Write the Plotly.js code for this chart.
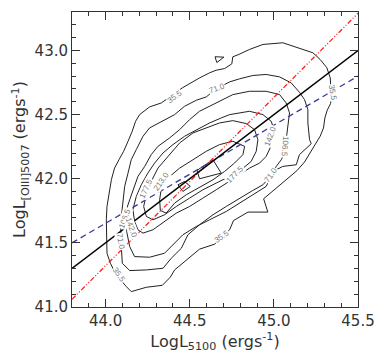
<!DOCTYPE html>
<html>
<head>
<meta charset="utf-8">
<script src="https://cdn.plot.ly/plotly-3.0.1.min.js"></script>
<style>
  html, body { margin: 0; padding: 0; background: #fff; }
  #plot { width: 374px; height: 363px; }
</style>
</head>
<body>
<div id="plot"></div>
<script>
// contour levels (counts), each traced as a closed polyline
c35_x = [44.152, 44.242, 44.337, 44.384, 44.410, 44.479, 44.558, 44.648, 44.737, 44.760, 44.846, 44.964, 44.939, 45.014, 45.083, 45.137, 45.182, 45.212, 45.246, 45.275, 45.295, 45.303, 45.317, 45.337, 45.341, 45.335, 45.315, 45.275, 45.232, 45.133, 45.053, 44.935, 44.855, 44.792, 44.756, 44.750, 44.707, 44.657, 44.618, 44.558, 44.509, 44.455, 44.400, 44.331, 44.261, 44.202, 44.178, 44.158, 44.133, 44.107, 44.079, 44.053, 44.034, 44.020, 44.008, 44.004, 44.004, 44.008, 44.028, 44.063, 44.123, 44.152]
c35_y = [41.120, 41.154, 41.169, 41.232, 41.289, 41.367, 41.451, 41.490, 41.602, 41.674, 41.740, 41.740, 41.844, 41.927, 42.000, 42.063, 42.130, 42.195, 42.273, 42.331, 42.396, 42.474, 42.534, 42.586, 42.656, 42.786, 42.865, 42.930, 42.982, 43.026, 43.060, 43.047, 43.008, 42.969, 42.951, 42.896, 42.859, 42.846, 42.826, 42.786, 42.747, 42.708, 42.656, 42.591, 42.560, 42.500, 42.448, 42.370, 42.292, 42.214, 42.148, 42.083, 41.992, 41.888, 41.784, 41.680, 41.549, 41.419, 41.341, 41.250, 41.159, 41.120]
c35b_x = [44.650, 44.703, 44.661, 44.650]
c35b_y = [42.951, 42.948, 42.906, 42.951]

c71_x = [44.796, 44.875, 44.954, 45.034, 45.103, 45.152, 45.182, 45.202, 45.202, 45.212, 45.222, 45.152, 45.133, 45.053, 45.014, 44.935, 44.875, 44.796, 44.717, 44.638, 44.558, 44.489, 44.450, 44.390, 44.341, 44.242, 44.143, 44.099, 44.093, 44.089, 44.103, 44.113, 44.133, 44.152, 44.182, 44.222, 44.261, 44.311, 44.360, 44.410, 44.469, 44.539, 44.598, 44.657, 44.737, 44.796]
c71_y = [42.779, 42.805, 42.813, 42.794, 42.747, 42.674, 42.617, 42.539, 42.435, 42.305, 42.273, 42.188, 42.109, 42.096, 42.070, 41.953, 41.909, 41.849, 41.784, 41.719, 41.641, 41.563, 41.458, 41.380, 41.302, 41.289, 41.284, 41.341, 41.471, 41.654, 41.836, 41.940, 42.044, 42.148, 42.227, 42.331, 42.396, 42.430, 42.461, 42.500, 42.565, 42.612, 42.638, 42.701, 42.755, 42.779]

c106_x = [44.855, 44.954, 45.034, 45.073, 45.093, 45.083, 45.073, 45.063, 45.044, 45.014, 44.984, 44.954, 44.875, 44.796, 44.717, 44.618, 44.539, 44.459, 44.400, 44.350, 44.261, 44.172, 44.143, 44.127, 44.119, 44.123, 44.143, 44.162, 44.192, 44.232, 44.271, 44.311, 44.380, 44.440, 44.499, 44.558, 44.657, 44.756, 44.855]
c106_y = [42.682, 42.682, 42.656, 42.591, 42.513, 42.409, 42.305, 42.201, 42.148, 42.096, 42.018, 41.940, 41.875, 41.810, 41.745, 41.680, 41.628, 41.563, 41.484, 41.419, 41.388, 41.393, 41.471, 41.576, 41.667, 41.758, 41.836, 41.914, 42.018, 42.096, 42.188, 42.253, 42.318, 42.383, 42.461, 42.526, 42.591, 42.656, 42.682]

c142_x = [44.737, 44.855, 44.935, 44.984, 45.004, 44.994, 44.978, 44.954, 44.915, 44.855, 44.796, 44.737, 44.657, 44.578, 44.499, 44.420, 44.350, 44.281, 44.222, 44.192, 44.172, 44.162, 44.182, 44.212, 44.251, 44.291, 44.341, 44.400, 44.469, 44.539, 44.618, 44.687, 44.737]
c142_y = [42.500, 42.526, 42.500, 42.448, 42.370, 42.305, 42.240, 42.174, 42.122, 42.083, 42.031, 41.979, 41.914, 41.849, 41.784, 41.732, 41.667, 41.602, 41.576, 41.602, 41.667, 41.758, 41.862, 41.953, 42.044, 42.122, 42.201, 42.266, 42.331, 42.383, 42.435, 42.474, 42.500]

c177_x = [44.519, 44.598, 44.677, 44.756, 44.836, 44.885, 44.905, 44.895, 44.865, 44.806, 44.737, 44.657, 44.578, 44.499, 44.420, 44.350, 44.281, 44.242, 44.226, 44.242, 44.271, 44.311, 44.370, 44.440, 44.519]
c177_y = [42.357, 42.396, 42.435, 42.453, 42.430, 42.383, 42.305, 42.214, 42.135, 42.070, 42.018, 41.966, 41.914, 41.849, 41.784, 41.719, 41.680, 41.706, 41.784, 41.875, 41.979, 42.083, 42.174, 42.279, 42.357]

c213_x = [44.321, 44.331, 44.370, 44.440, 44.519, 44.598, 44.677, 44.756, 44.826, 44.816, 44.766, 44.707, 44.638, 44.558, 44.479, 44.410, 44.360, 44.325, 44.321]
c213_y = [41.836, 41.927, 42.005, 42.083, 42.148, 42.214, 42.266, 42.292, 42.253, 42.188, 42.122, 42.057, 41.992, 41.935, 41.875, 41.810, 41.732, 41.753, 41.836]

c248_x = [44.543, 44.638, 44.687, 44.558, 44.543]
c248_y = [42.065, 42.148, 42.044, 42.000, 42.065]
c248b_x = [44.430, 44.469, 44.503, 44.459, 44.430]
c248b_y = [41.953, 41.979, 41.940, 41.901, 41.953]

// contour labels
lab_text = ['35.5', '35.5', '35.5', '35.5', '71.0', '71.0', '71.0', '106.5', '106.5', '142.0', '142.0', '177.5', '177.5', '213.0']
lab_x = [44.414, 45.347, 44.693, 44.077, 44.661, 44.980, 44.087, 44.113, 45.067, 44.156, 44.978, 44.242, 44.770, 44.331]
lab_y = [42.638, 42.669, 41.547, 41.253, 42.701, 42.026, 41.508, 41.693, 42.253, 41.615, 42.331, 41.922, 42.031, 41.979]
lab_angle = [-35, 80, -35, 55, -20, -55, 80, -70, 95, 70, -70, -65, -45, -55]

// fitted lines
fit_x = [43.8, 45.5]
fit_black = [41.30, 43.00]
fit_red = [41.06, 43.29]
fit_blue = [41.50, 42.80]

var contours = [
    [c35_x, c35_y], [c35b_x, c35b_y], [c71_x, c71_y], [c106_x, c106_y],
    [c142_x, c142_y], [c177_x, c177_y], [c213_x, c213_y],
    [c248_x, c248_y], [c248b_x, c248b_y]
]

var traces = contours.map(c => ({
    x: c[0], y: c[1],
    mode: 'lines', type: 'scatter',
    line: { color: '#222', width: 1 },
    hoverinfo: 'skip'
}))

traces.push({
    x: fit_x, y: fit_blue, mode: 'lines', type: 'scatter',
    line: { color: '#3a3a9a', width: 1.3, dash: '6px,4px' }
})
traces.push({
    x: fit_x, y: fit_red, mode: 'lines', type: 'scatter',
    line: { color: '#ff2020', width: 1.3, dash: '5px,2px,1px,2px,1px,2px' }
})
traces.push({
    x: fit_x, y: fit_black, mode: 'lines', type: 'scatter',
    line: { color: '#000', width: 1.5 }
})

var annotations = lab_text.map((t, i) => ({
    x: lab_x[i], y: lab_y[i], text: t,
    showarrow: false, textangle: lab_angle[i],
    font: { family: 'Liberation Sans, Arial, sans-serif', size: 8, color: '#777' },
    bgcolor: '#fff', borderpad: 0
}))

var tickFont = { family: 'DejaVu Sans, sans-serif', size: 15, color: '#333' }
var titleFont = { family: 'DejaVu Sans, sans-serif', size: 16, color: '#333' }

var layout = {
    width: 374, height: 363,
    margin: { l: 72, r: 16, t: 12, b: 56 },
    paper_bgcolor: '#fff', plot_bgcolor: '#fff',
    showlegend: false,
    xaxis: {
        range: [43.8, 45.5],
        tickvals: [44.0, 44.5, 45.0, 45.5],
        ticktext: ['44.0', '44.5', '45.0', '45.5'],
        ticklabeloverflow: 'allow',
        ticks: 'inside', ticklen: 8, tickcolor: '#333',
        minor: { dtick: 0.1, tick0: 43.8, ticks: 'inside', ticklen: 4, tickcolor: '#333' },
        showline: true, mirror: 'allticks', linecolor: '#333', linewidth: 1,
        showgrid: false, zeroline: false,
        tickfont: tickFont,
        title: { text: 'LogL<sub>5100</sub> (ergs<sup>-1</sup>)', font: titleFont, standoff: 3 }
    },
    yaxis: {
        range: [41.0, 43.3],
        tickvals: [41.0, 41.5, 42.0, 42.5, 43.0],
        ticktext: ['41.0', '41.5', '42.0', '42.5', '43.0'],
        ticklabeloverflow: 'allow',
        ticks: 'inside', ticklen: 8, tickcolor: '#333',
        minor: { dtick: 0.1, tick0: 41.0, ticks: 'inside', ticklen: 4, tickcolor: '#333' },
        showline: true, mirror: 'allticks', linecolor: '#333', linewidth: 1,
        showgrid: false, zeroline: false,
        tickfont: tickFont,
        title: { text: 'LogL<sub>[OIII]5007</sub> (ergs<sup>-1</sup>)', font: titleFont, standoff: 4 }
    },
    annotations: annotations
}

Plotly.newPlot('plot', traces, layout, { staticPlot: true })
</script>
</body>
</html>
